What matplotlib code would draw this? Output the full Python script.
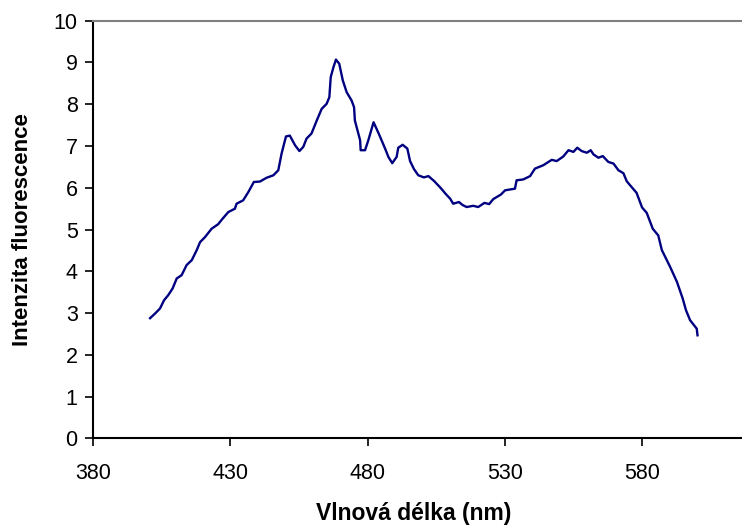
import matplotlib
matplotlib.use("Agg")
import matplotlib.pyplot as plt

plt.rcParams['font.family'] = ['Liberation Sans', 'DejaVu Sans']

# wavelength (nm) and fluorescence intensity
wavelength = [400.8, 402.6, 404.4, 405.9, 407.4, 409.0, 410.5, 412.3, 414.1, 416.0,
              417.8, 419.0, 420.8, 423.2, 425.6, 427.2, 429.3, 431.7, 432.3, 434.7,
              436.6, 438.6, 440.8, 443.2, 445.7, 447.5, 448.7, 450.3, 451.7, 453.6,
              455.2, 456.6, 457.8, 459.6, 461.5, 463.3, 465.1, 466.1, 466.6, 467.6,
              468.5, 469.7, 471.0, 472.4, 474.2, 475.1, 475.4, 477.3, 477.5, 479.1,
              480.3, 482.2, 484.2, 486.4, 487.6, 489.0, 490.6, 491.2, 492.8, 494.5,
              495.5, 496.9, 498.5, 500.5, 502.2, 504.3, 506.6, 508.4, 510.1, 511.2,
              513.3, 514.6, 516.1, 518.5, 520.3, 522.6, 524.3, 525.8, 528.6, 530.1,
              531.9, 533.7, 534.3, 536.7, 539.2, 541.0, 544.0, 547.1, 548.9, 551.3,
              553.2, 555.0, 556.4, 558.0, 559.9, 561.3, 562.3, 564.1, 565.7, 567.7,
              569.6, 571.4, 573.2, 574.4, 575.4, 578.0, 580.0, 581.7, 583.9, 585.9,
              587.2, 589.0, 590.2, 592.7, 594.8, 596.0, 597.5, 599.9, 600.2]
intensity = [2.88, 2.99, 3.11, 3.31, 3.43, 3.59, 3.83, 3.91, 4.15, 4.27,
             4.51, 4.70, 4.82, 5.02, 5.13, 5.26, 5.42, 5.50, 5.62, 5.70,
             5.90, 6.14, 6.15, 6.24, 6.30, 6.42, 6.82, 7.23, 7.25, 7.02,
             6.88, 6.98, 7.18, 7.30, 7.61, 7.89, 8.01, 8.17, 8.65, 8.89,
             9.07, 8.97, 8.57, 8.29, 8.09, 7.93, 7.61, 7.14, 6.90, 6.90,
             7.14, 7.57, 7.28, 6.94, 6.74, 6.59, 6.74, 6.96, 7.03, 6.94,
             6.64, 6.45, 6.30, 6.25, 6.28, 6.16, 6.00, 5.86, 5.74, 5.62,
             5.66, 5.59, 5.54, 5.57, 5.54, 5.64, 5.61, 5.73, 5.84, 5.94,
             5.96, 5.98, 6.18, 6.20, 6.28, 6.46, 6.54, 6.67, 6.64, 6.75,
             6.90, 6.86, 6.96, 6.88, 6.84, 6.90, 6.80, 6.72, 6.76, 6.62,
             6.58, 6.42, 6.35, 6.16, 6.08, 5.88, 5.53, 5.40, 5.02, 4.86,
             4.51, 4.27, 4.11, 3.75, 3.35, 3.07, 2.83, 2.63, 2.47]

x_ticks = [380, 430, 480, 530, 580]
y_ticks = list(range(0, 11))

fig = plt.figure(figsize=(7.42, 5.26), dpi=100)
ax = fig.add_axes([0.1253, 0.1664, 0.8747, 0.7942])

ax.plot(wavelength, intensity, color='#000080', lw=1.7, solid_joinstyle='round')

ax.set_xlim(380, 616.4)
ax.set_ylim(0, 10)
ax.set_xticks(x_ticks)
ax.set_yticks(y_ticks)
ax.tick_params(direction='out', length=6, width=1.2, labelsize=15.5, colors='black', pad=5)
ax.tick_params(axis='x', pad=12)

for s in ['left', 'bottom']:
    ax.spines[s].set_linewidth(1.5)
    ax.spines[s].set_color('black')
ax.spines['top'].set_color('#808080')
ax.spines['top'].set_linewidth(1.5)
ax.spines['right'].set_visible(False)

ax.set_xlabel('Vlnová délka (nm)', fontsize=16.5, fontweight='bold', va='center')
ax.xaxis.set_label_coords(0.494, -0.18)
ax.set_ylabel('Intenzita fluorescence', fontsize=16, fontweight='bold', va='center')
ax.yaxis.set_label_coords(-0.109, 0.5)

fig.savefig('out.png', dpi=100)
